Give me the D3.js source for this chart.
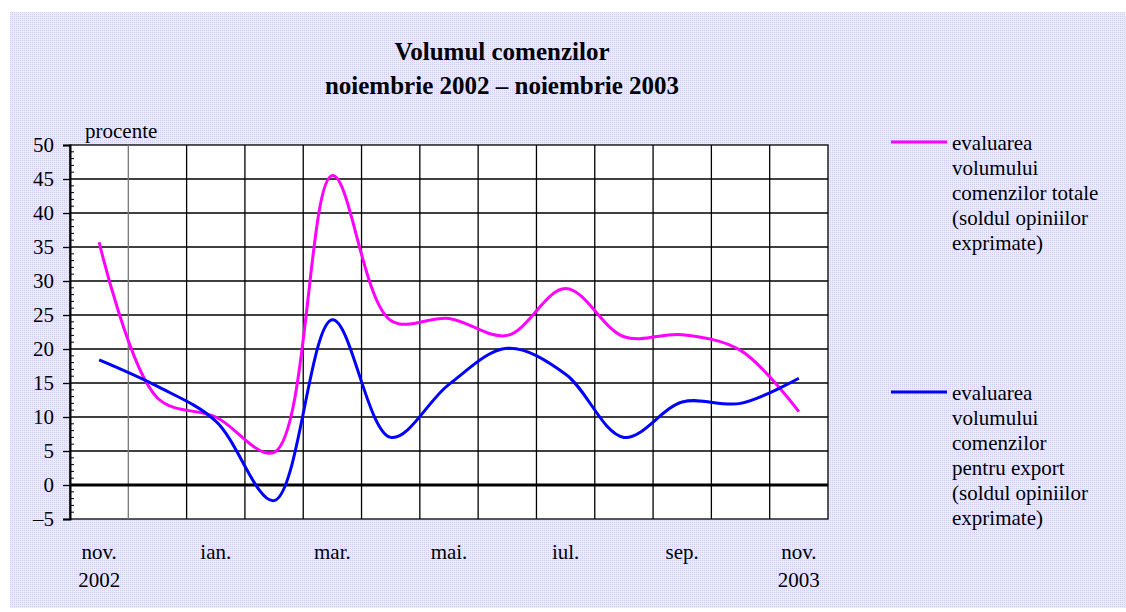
<!DOCTYPE html>
<html>
<head>
<meta charset="utf-8">
<script src="https://cdn.jsdelivr.net/npm/d3@7"></script>
<style>
  body { margin: 0; background: #fff; }
  text { font-family: "Liberation Serif", "Times New Roman", serif; fill: #000; }
</style>
</head>
<body>
<div id="container"></div>
<script>
// data
var months = ["nov.", "dec.", "ian.", "feb.", "mar.", "apr.", "mai.", "iun.", "iul.", "aug.", "sep.", "oct.", "nov."];
var years = ["2002", "", "", "", "", "", "", "", "", "", "", "", "2003"];
var totalOrders = [35.7, 12.8, 10.0, 4.8, 45.5, 24.2, 24.5, 22.0, 28.9, 21.8, 22.1, 19.8, 10.8];
var exportOrders = [18.4, 14.5, 9.4, -2.3, 24.3, 7.0, 14.8, 20.1, 16.3, 7.0, 12.2, 12.0, 15.7];
var yTicks = [-5, 0, 5, 10, 15, 20, 25, 30, 35, 40, 45, 50];
var seriesNames = [
  ["evaluarea", "volumului", "comenzilor totale", "(soldul opiniilor", "exprimate)"],
  ["evaluarea", "volumului", "comenzilor", "pentru export", "(soldul opiniilor", "exprimate)"]
];
var seriesColors = ["#ff00ff", "#0000ff"];

var width = 1126;
var height = 612;

var svg = d3.select("#container")
            .append("svg")
            .attr("width", width)
            .attr("height", height);

// dotted lavender background
var pat = svg.append("defs").append("pattern")
             .attr("id", "dots")
             .attr("width", 2).attr("height", 2)
             .attr("patternUnits", "userSpaceOnUse");
pat.append("rect").attr("width", 2).attr("height", 2).attr("fill", "#eaeafc");
pat.append("rect").attr("width", 1).attr("height", 1).attr("fill", "#cfcff6");

svg.append("rect")
   .attr("x", 10).attr("y", 12)
   .attr("width", width - 10).attr("height", 596)
   .attr("fill", "url(#dots)");

// title
svg.append("text")
   .attr("x", 502).attr("y", 60)
   .attr("text-anchor", "middle")
   .style("font-size", "25px").style("font-weight", "bold")
   .text("Volumul comenzilor");
svg.append("text")
   .attr("x", 502).attr("y", 94)
   .attr("text-anchor", "middle")
   .style("font-size", "25px").style("font-weight", "bold")
   .text("noiembrie 2002 \u2013 noiembrie 2003");

// scales
var x = d3.scaleBand()
          .domain(d3.range(months.length))
          .range([70, 828]);
var y = d3.scaleLinear()
          .domain([-5, 50])
          .range([519, 145]);

var left = x.range()[0], right = x.range()[1];

// plot area
svg.append("rect")
   .attr("x", left).attr("y", y(50))
   .attr("width", right - left).attr("height", y(-5) - y(50))
   .attr("fill", "#fff")
   .attr("stroke", "#000")
   .attr("stroke-width", 1.3);

// horizontal grid
svg.selectAll(".hgrid")
   .data(yTicks.filter(function(d) { return d > -5 && d < 50 && d != 0; }))
   .enter().append("line")
   .attr("x1", left).attr("x2", right)
   .attr("y1", function(d) { return y(d); })
   .attr("y2", function(d) { return y(d); })
   .attr("stroke", "#000")
   .attr("stroke-width", 1.3);

// vertical grid at band edges
svg.selectAll(".vgrid")
   .data(d3.range(1, months.length))
   .enter().append("line")
   .attr("x1", function(d) { return x(d); })
   .attr("x2", function(d) { return x(d); })
   .attr("y1", y(50)).attr("y2", y(-5))
   .attr("stroke", function(d) { return d == 1 ? "#777" : "#000"; })
   .attr("stroke-width", 1.3);

// zero line
svg.append("line")
   .attr("x1", left).attr("x2", right)
   .attr("y1", y(0)).attr("y2", y(0))
   .attr("stroke", "#000")
   .attr("stroke-width", 3);

// minor ticks inside the plot
svg.selectAll(".minor")
   .data(d3.range(-5, 51).filter(function(d) { return d % 5 != 0; }))
   .enter().append("line")
   .attr("x1", left).attr("x2", left + 4)
   .attr("y1", function(d) { return y(d); })
   .attr("y2", function(d) { return y(d); })
   .attr("stroke", "#000")
   .attr("stroke-width", 1);

// y axis
var yAxis = svg.append("g")
   .attr("transform", "translate(" + left + ",0)")
   .call(d3.axisLeft(y)
           .tickValues(yTicks)
           .tickSize(7)
           .tickPadding(9)
           .tickFormat(function(d) { return d < 0 ? "\u2013" + Math.abs(d) : d; }));
yAxis.select(".domain").attr("stroke-width", 2);
yAxis.selectAll(".tick line").attr("stroke-width", 1.3);
yAxis.selectAll("text")
     .style("font-size", "21px")
     .style("font-family", "Liberation Serif")
     .attr("fill", "#000");

svg.append("text")
   .attr("x", 85).attr("y", 138)
   .style("font-size", "21px")
   .text("procente");

// x labels, every second month
var xl = svg.selectAll(".xlab")
   .data(d3.range(0, months.length, 2))
   .enter().append("g")
   .attr("transform", function(d) { return "translate(" + (x(d) + x.bandwidth() / 2) + ",0)"; });
xl.append("text")
  .attr("y", 559)
  .attr("text-anchor", "middle")
  .style("font-size", "21px")
  .text(function(d) { return months[d]; });
xl.append("text")
  .attr("y", 587)
  .attr("text-anchor", "middle")
  .style("font-size", "21px")
  .text(function(d) { return years[d]; });

// smoothed lines
var line = d3.line()
   .x(function(d, i) { return x(i) + x.bandwidth() / 2; })
   .y(function(d) { return y(d); })
   .curve(d3.curveCatmullRom.alpha(0.5));

[totalOrders, exportOrders].forEach(function(s, k) {
  svg.append("path")
     .datum(s)
     .attr("d", line)
     .attr("fill", "none")
     .attr("stroke", seriesColors[k])
     .attr("stroke-width", 3);
});

// legend
var legendTop = [142, 392];
seriesNames.forEach(function(lines, k) {
  svg.append("line")
     .attr("x1", 891).attr("x2", 947)
     .attr("y1", legendTop[k]).attr("y2", legendTop[k])
     .attr("stroke", seriesColors[k])
     .attr("stroke-width", 3);
  svg.selectAll(".leg" + k)
     .data(lines)
     .enter().append("text")
     .attr("x", 952)
     .attr("y", function(d, i) { return legendTop[k] + 8 + i * 25; })
     .style("font-size", "21px")
     .text(function(d) { return d; });
});
</script>
</body>
</html>
